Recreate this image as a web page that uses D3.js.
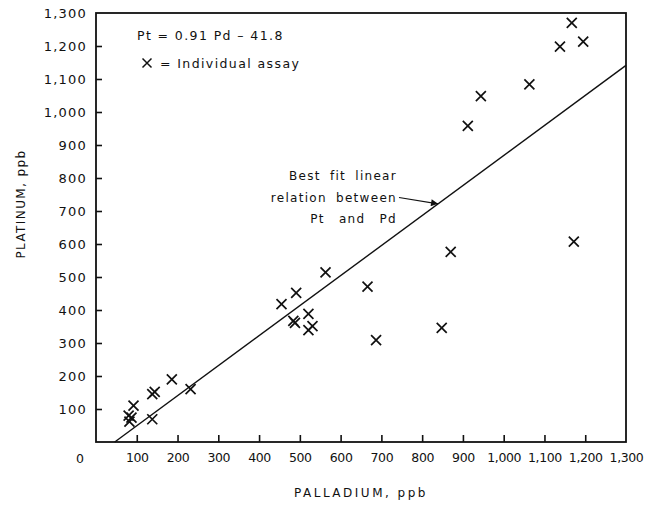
<!DOCTYPE html>
<html><head><meta charset="utf-8">
<script src="https://cdn.jsdelivr.net/npm/d3@7"></script>
<style>
body{margin:0;background:#fff}
text{font-family:"DejaVu Sans",sans-serif;fill:#111}
</style>
</head><body>
<svg id="c" width="647" height="508"></svg>
<script>
// Data (ppb)
const palladium = [1167, 1138, 1195, 1063, 944, 912, 1172, 870, 848, 687, 666, 563, 491, 455, 521, 484, 488, 521, 531, 232, 186, 138, 144, 92, 138, 80, 87, 82];
const platinum  = [1270, 1198, 1213, 1084, 1048, 958, 607, 576, 346, 309, 471, 514, 452, 418, 388, 367, 361, 339, 351, 160, 190, 145, 152, 110, 69, 80, 74, 62];
const xTickValues = [100,200,300,400,500,600,700,800,900,1000,1100,1200,1300];
const yTickValues = [100,200,300,400,500,600,700,800,900,1000,1100,1200,1300];
const fitSlope = 0.91, fitIntercept = -41.8;
const equationLabel = "Pt = 0.91 Pd \u2013 41.8";
const legendLabel = "= Individual assay";
const noteLines = ["Best fit linear", "relation between", "Pt and Pd"];
const xTitle = "PALLADIUM, ppb";
const yTitle = "PLATINUM, ppb";

const svg = d3.select("#c");
const x = d3.scaleLinear().domain([0, 1300]).range([96, 626]);
const y = d3.scaleLinear().domain([0, 1300]).range([442, 13]);
const fmt = d3.format(",");

// frame
svg.append("rect").attr("x", x(0)).attr("y", y(1300))
  .attr("width", x(1300) - x(0)).attr("height", y(0) - y(1300))
  .attr("fill", "none").attr("stroke", "#111").attr("stroke-width", 1.8);

// tick marks (inward)
const xTickMarks = d3.axisBottom(x).tickValues(xTickValues.filter(v => v < 1300)).tickSizeInner(-7).tickSizeOuter(0).tickFormat("");
const gxm = svg.append("g").attr("transform", `translate(0,${y(0)})`).call(xTickMarks);
gxm.select(".domain").remove();
gxm.selectAll("line").attr("stroke", "#111").attr("stroke-width", 1.6);

const yTickMarks = d3.axisLeft(y).tickValues(yTickValues.filter(v => v < 1300)).tickSizeInner(-6).tickSizeOuter(0).tickFormat("");
const gym = svg.append("g").attr("transform", `translate(${x(0)},0)`).call(yTickMarks);
gym.select(".domain").remove();
gym.selectAll("line").attr("stroke", "#111").attr("stroke-width", 1.6);

// tick labels
const xLab = d3.axisBottom(x).tickValues(xTickValues).tickSize(0).tickPadding(0).tickFormat(fmt);
const gxl = svg.append("g").attr("transform", `translate(0,${y(0) + 11})`).call(xLab);
gxl.select(".domain").remove();
gxl.selectAll("text").attr("font-size", 12.5).attr("letter-spacing", -0.4).attr("fill", "#111")
  .attr("font-family", "DejaVu Sans");

const yLab = d3.axisLeft(y).tickValues(yTickValues).tickSize(0).tickPadding(9).tickFormat(fmt);
const gyl = svg.append("g").attr("transform", `translate(${x(0)},0)`).call(yLab);
gyl.select(".domain").remove();
gyl.selectAll("text").attr("font-size", 13).attr("letter-spacing", 1.2).attr("fill", "#111").attr("font-family", "DejaVu Sans");

// origin label
svg.append("text").attr("x", x(0) - 16).attr("y", y(0) + 21).attr("text-anchor", "middle")
  .attr("font-size", 12.5).text("0");

// fit line
const pdAtZero = -fitIntercept / fitSlope;
svg.append("line")
  .attr("x1", x(pdAtZero)).attr("y1", y(0))
  .attr("x2", x(1300)).attr("y2", y(fitSlope * 1300 + fitIntercept))
  .attr("stroke", "#111").attr("stroke-width", 1.4);

// points
const pts = palladium.map((d, i) => ({pd: d, pt: platinum[i]}));
const cross = "M-5,-5L5,5M-5,5L5,-5";
svg.append("g").selectAll("path").data(pts).join("path")
  .attr("d", cross).attr("transform", d => `translate(${x(d.pd)},${y(d.pt)})`)
  .attr("stroke", "#111").attr("stroke-width", 1.7).attr("fill", "none");

// equation & legend
svg.append("text").attr("x", 137).attr("y", 40).attr("font-size", 12.5).attr("letter-spacing", 1.4).text(equationLabel);
svg.append("path").attr("d", cross)
  .attr("stroke", "#111").attr("stroke-width", 1.6).attr("fill", "none").attr("transform", "translate(147,63) scale(0.9)");
svg.append("text").attr("x", 160).attr("y", 68).attr("font-size", 12.5).attr("letter-spacing", 1.4).text(legendLabel);

// note (right-aligned block)
const noteWordSpacing = [4, 4, 9];
const note = svg.append("text").attr("font-size", 12).attr("letter-spacing", 1.3).attr("text-anchor", "end");
noteLines.forEach((t, i) => note.append("tspan").attr("x", 397).attr("y", 180 + i * 21.5)
  .attr("word-spacing", noteWordSpacing[i]).text(t));

// arrow
svg.append("defs").append("marker").attr("id", "ah").attr("viewBox", "0 0 10 10")
  .attr("refX", 10).attr("refY", 5).attr("markerWidth", 9).attr("markerHeight", 7)
  .attr("markerUnits", "userSpaceOnUse").attr("orient", "auto")
  .append("path").attr("d", "M0,0L10,5L0,10Z").attr("fill", "#111");
const arrowPd = 839;
svg.append("line").attr("x1", 399).attr("y1", 197.5)
  .attr("x2", x(arrowPd)).attr("y2", y(fitSlope * arrowPd + fitIntercept))
  .attr("stroke", "#111").attr("stroke-width", 1.2).attr("marker-end", "url(#ah)");

// axis titles
svg.append("text").attr("x", 361).attr("y", 497).attr("text-anchor", "middle")
  .attr("font-size", 12).attr("letter-spacing", 2.5).text(xTitle);
svg.append("text").attr("transform", "translate(25,204) rotate(-90)").attr("text-anchor", "middle")
  .attr("font-size", 12).attr("letter-spacing", 1.4).text(yTitle);
</script>
</body></html>
